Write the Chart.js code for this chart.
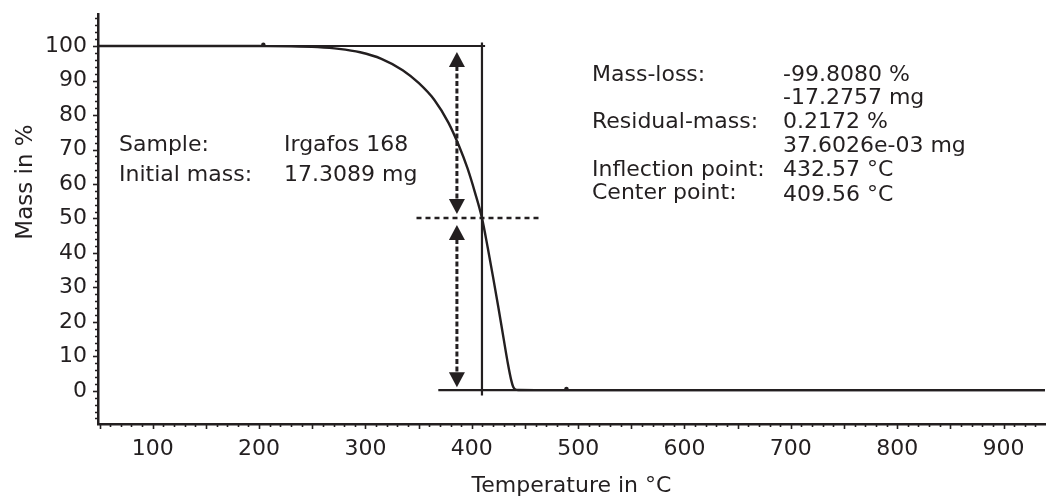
<!DOCTYPE html>
<html>
<head>
<meta charset="utf-8">
<script src="https://cdn.jsdelivr.net/npm/chart.js@4.4.1/dist/chart.umd.min.js"></script>
<style>
  html, body { margin: 0; padding: 0; background: #fff; }
  #wrap { width: 1049px; height: 499px; position: relative; }
</style>
</head>
<body>
<div id="wrap"><canvas id="tga"></canvas></div>
<script>
// TGA run: Irgafos 168, mass (%) against temperature (°C)
const temperature = [48.5, 150, 200, 230, 255, 275, 295, 315, 335, 350, 365, 378, 388, 396, 403, 409.56,
  415, 420, 425, 430, 434, 437, 439, 441, 444, 460, 600, 800, 939];
const massPct = [100.02, 100.02, 100.0, 99.95, 99.7, 99.2, 98.2, 96.3, 93.0, 89.3, 84.3, 77.8, 71.0, 64.5, 57.5, 50.1,
  41.5, 33.0, 24.2, 15.0, 7.8, 3.2, 1.1, 0.4, 0.25, 0.22, 0.2172, 0.2172, 0.2172];

const xTicks = [100, 200, 300, 400, 500, 600, 700, 800, 900];
const yTicks = [0, 10, 20, 30, 40, 50, 60, 70, 80, 90, 100];

// evaluation results
const massLoss = -99.8080;      // %
const residualMass = 0.2172;    // %
const centerPoint = 409.56;     // °C
const stepTop = residualMass - massLoss;
const stepMid = residualMass - massLoss / 2;

// extents of the evaluation lines (°C)
const topLineT = [48.5, 412.5];
const baseLineT = [368.5, 939];
const midLineT = [348, 464];
const centerLineY = [-1.3, 101];
const arrowT = 386;
const markerT = [204, 489];
const markerY = [100.4, 0.6];

const infoLeft = [
  ['Sample:', 'Irgafos 168'],
  ['Initial mass:', '17.3089 mg']
];
const infoRight = [
  ['Mass-loss:', '-99.8080 %'],
  ['', '-17.2757 mg'],
  ['Residual-mass:', '0.2172 %'],
  ['', '37.6026e-03 mg'],
  ['Inflection point:', '432.57 °C'],
  ['Center point:', '409.56 °C']
];

const ink = '#231f20';
const FONT = '"DejaVu Sans", sans-serif';
Chart.defaults.font.family = FONT;
Chart.defaults.font.size = 22;
Chart.defaults.color = ink;

const pts = (xs, ys) => xs.map((x, i) => ({ x, y: ys[i] }));

const refLine = (data, dash) => ({
  data, borderColor: ink, borderWidth: dash ? 2.4 : 2.2, pointRadius: 0,
  borderDash: dash || [], tension: 0, order: 2
});

// tick marks, arrows, text blocks and y title
const extras = {
  id: 'extras',
  afterDraw(chart) {
    const { ctx, scales: { x, y } } = chart;
    ctx.save();
    ctx.strokeStyle = ink;
    ctx.fillStyle = ink;

    // axis tick marks
    ctx.lineWidth = 1.6;
    for (let v = -8; v <= 108; v += 2) {
      const py = Math.round(y.getPixelForValue(v)) + 0.5;
      const len = v % 10 === 0 ? 4 : 2;
      ctx.beginPath();
      ctx.moveTo(x.left - 1, py);
      ctx.lineTo(x.left - 1 - len, py);
      ctx.stroke();
    }
    for (let v = 50; v <= 930; v += 10) {
      const px = Math.round(x.getPixelForValue(v)) + 0.5;
      const len = v % 50 === 0 ? 4 : 2;
      ctx.beginPath();
      ctx.moveTo(px, y.bottom + 1);
      ctx.lineTo(px, y.bottom + 1 + len);
      ctx.stroke();
    }

    // double arrows between the step levels
    const ax = x.getPixelForValue(arrowT);
    const arrow = (v1, v2) => {
      const p1 = y.getPixelForValue(v1) + 6;
      const p2 = y.getPixelForValue(v2) - 4;
      const head = 15, half = 8;
      ctx.save();
      ctx.lineWidth = 3;
      ctx.setLineDash([5, 2.5]);
      ctx.beginPath();
      ctx.moveTo(ax, p1 + head - 1);
      ctx.lineTo(ax, p2 - head + 1);
      ctx.stroke();
      ctx.restore();
      ctx.beginPath();
      ctx.moveTo(ax, p1);
      ctx.lineTo(ax - half, p1 + head);
      ctx.lineTo(ax + half, p1 + head);
      ctx.closePath();
      ctx.fill();
      ctx.beginPath();
      ctx.moveTo(ax, p2);
      ctx.lineTo(ax - half, p2 - head);
      ctx.lineTo(ax + half, p2 - head);
      ctx.closePath();
      ctx.fill();
    };
    arrow(stepTop, stepMid);
    ctx.save();
    ctx.translate(0, 1);
    arrow(stepMid, residualMass);
    ctx.restore();

    // text blocks
    ctx.font = '22px ' + FONT;
    ctx.textBaseline = 'alphabetic';
    ctx.textAlign = 'left';
    const leftBase = [151, 181];
    infoLeft.forEach(([k, v], i) => {
      ctx.fillText(k, 119, leftBase[i]);
      ctx.fillText(v, 284, leftBase[i]);
    });
    const rightBase = [81, 103.5, 128, 152, 175.5, 201];
    infoRight.forEach(([k, v], i) => {
      if (k) ctx.fillText(k, 592, rightBase[i] - (i === 5 ? 2 : 0));
      ctx.fillText(v, 783, rightBase[i]);
    });

    // y axis title
    ctx.save();
    ctx.font = '23px ' + FONT;
    ctx.translate(32, 182);
    ctx.rotate(-Math.PI / 2);
    ctx.textAlign = 'center';
    ctx.fillText('Mass in %', 0, 0);
    ctx.restore();

    ctx.restore();
  }
};

new Chart(document.getElementById('tga'), {
  type: 'line',
  data: {
    datasets: [
      {
        data: pts(temperature, massPct),
        borderColor: ink, borderWidth: 2.4, pointRadius: 0,
        cubicInterpolationMode: 'monotone', order: 1
      },
      refLine(pts(topLineT, [stepTop, stepTop])),
      refLine(pts([centerPoint, centerPoint], centerLineY)),
      refLine(pts(baseLineT, [residualMass, residualMass])),
      refLine(pts(midLineT, [stepMid, stepMid]), [5, 4]),
      {
        type: 'scatter',
        data: pts(markerT, markerY),
        pointRadius: 2.2, pointBackgroundColor: ink, pointBorderWidth: 0
      }
    ]
  },
  options: {
    responsive: true,
    maintainAspectRatio: false,
    animation: false,
    events: [],
    layout: { padding: { top: 14, right: 0, left: 0, bottom: 0 } },
    plugins: { legend: { display: false }, tooltip: { enabled: false } },
    scales: {
      x: {
        type: 'linear',
        min: 48.5, max: 939,
        afterBuildTicks: s => { s.ticks = xTicks.map(value => ({ value })); },
        afterFit: s => {
          s.height = 75;
          s.paddingLeft = 0;
          s.paddingRight = 0;
        },
        grid: { display: false, drawTicks: false },
        border: { display: true, color: ink, width: 2.5 },
        ticks: { padding: 12, maxRotation: 0, autoSkip: false },
        title: {
          display: true, text: 'Temperature in °C',
          padding: { top: 0, bottom: 0 }
        }
      },
      y: {
        min: -9.6, max: 109.3,
        afterBuildTicks: s => { s.ticks = yTicks.map(value => ({ value })); },
        afterFit: s => {
          s.width = 98;
          s.paddingTop = 0;
          s.paddingBottom = 0;
        },
        grid: { display: false, drawTicks: false },
        border: { display: true, color: ink, width: 2.5 },
        ticks: { padding: 11, autoSkip: false }
      }
    }
  },
  plugins: [extras]
});
</script>
</body>
</html>
